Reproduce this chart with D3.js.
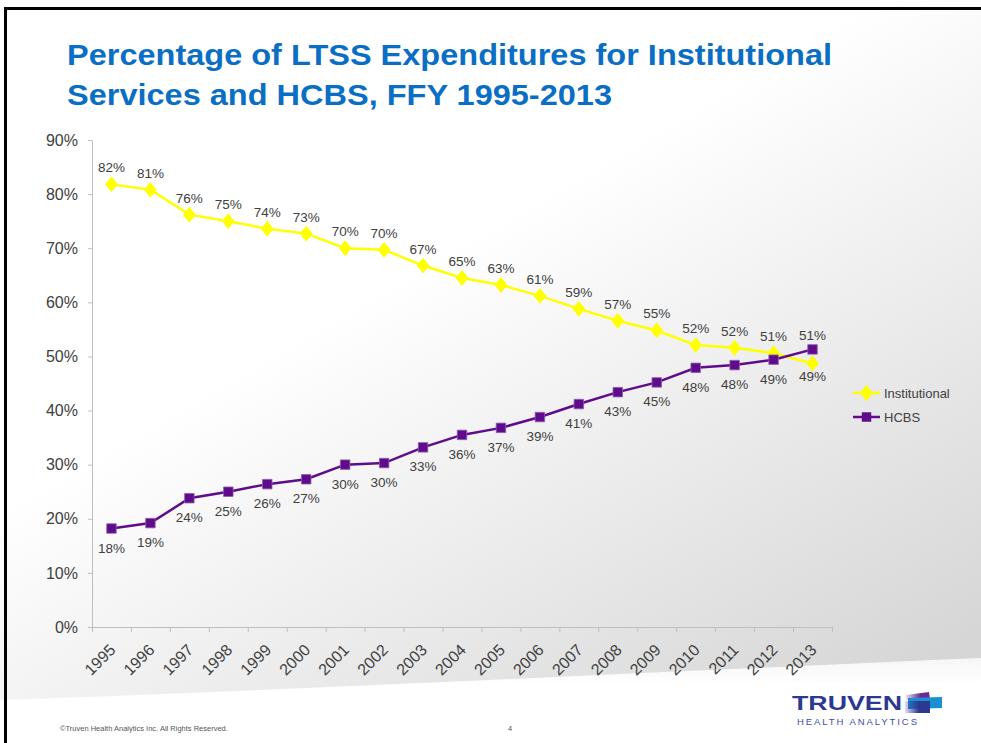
<!DOCTYPE html>
<html>
<head>
<meta charset="utf-8">
<script src="https://cdn.jsdelivr.net/npm/d3@7"></script>
<style>
  html, body { margin: 0; padding: 0; background: #fff; }
  svg { display: block; font-family: "Liberation Sans", Arial, sans-serif; }
</style>
</head>
<body>
<svg id="chart" width="981" height="743"></svg>
<script>
const years = ['1995', '1996', '1997', '1998', '1999', '2000', '2001', '2002', '2003', '2004',
  '2005', '2006', '2007', '2008', '2009', '2010', '2011', '2012', '2013'];
const institutional = [81.8, 80.8, 76.2, 75.0, 73.6, 72.7, 70.0, 69.7, 66.8, 64.5,
  63.2, 61.2, 58.8, 56.6, 54.8, 52.1, 51.6, 50.6, 48.7];
const hcbs = [18.2, 19.2, 23.8, 25.0, 26.4, 27.3, 30.0, 30.3, 33.2, 35.5,
  36.8, 38.8, 41.2, 43.4, 45.2, 47.9, 48.4, 49.4, 51.3];
const yTicks = [0, 10, 20, 30, 40, 50, 60, 70, 80, 90];
const seriesNames = ['Institutional', 'HCBS'];

const width = 981;
const height = 743;
const margin = { top: 140, right: 149, bottom: 116, left: 92 };

const svg = d3.select('#chart').attr('viewBox', [0, 0, width, height]);
const defs = svg.append('defs');

// slide background: grey wash on the right, white swoosh at the bottom
const bg = defs.append('linearGradient').attr('id', 'bg')
  .attr('x1', 0.5).attr('y1', 0.2).attr('x2', 1).attr('y2', 0.85);
bg.append('stop').attr('offset', '0.1').attr('stop-color', '#ffffff');
bg.append('stop').attr('offset', '1').attr('stop-color', '#d6d6d6');
const sw = defs.append('linearGradient').attr('id', 'sw').attr('x1', 0).attr('x2', 0).attr('y1', 0).attr('y2', 1);
sw.append('stop').attr('offset', '0').attr('stop-color', '#f6f6f6');
sw.append('stop').attr('offset', '0.3').attr('stop-color', '#ffffff');
sw.append('stop').attr('offset', '1').attr('stop-color', '#ffffff');

svg.append('rect').attr('width', width).attr('height', height).attr('fill', 'url(#bg)');
svg.append('path')
  .attr('d', 'M0,700 C300,690 650,672 981,658 L981,743 L0,743 Z')
  .attr('fill', 'url(#sw)');

// slide frame
svg.append('rect').attr('x', 5).attr('y', 7).attr('width', width - 5).attr('height', 3).attr('fill', '#000');
svg.append('rect').attr('x', 4).attr('y', 7).attr('width', 3).attr('height', height - 7).attr('fill', '#000');

// title
const title = svg.append('text')
  .attr('fill', '#0a6fc4')
  .attr('font-weight', 'bold')
  .attr('font-size', 30);
title.append('tspan').attr('x', 67).attr('y', 65)
  .attr('textLength', 765).attr('lengthAdjust', 'spacingAndGlyphs')
  .text('Percentage of LTSS Expenditures for Institutional');
title.append('tspan').attr('x', 67).attr('y', 105)
  .attr('textLength', 545).attr('lengthAdjust', 'spacingAndGlyphs')
  .text('Services and HCBS, FFY 1995-2013');

const x = d3.scaleBand()
  .domain(years)
  .range([margin.left, width - margin.right])
  .paddingInner(0)
  .paddingOuter(0);
const cx = d => x(d) + x.bandwidth() / 2;

const xb = d3.scaleLinear()
  .domain([0, years.length])
  .range([margin.left, width - margin.right]);

const y = d3.scaleLinear()
  .domain([0, 90])
  .range([height - margin.bottom, margin.top]);

const axisColor = '#bfbfbf';
const textColor = '#404040';

// y axis
svg.append('g')
  .attr('transform', `translate(${margin.left},0)`)
  .call(d3.axisLeft(y).tickValues(yTicks).tickSize(4).tickSizeOuter(0).tickPadding(10).tickFormat(d => d + '%'))
  .call(g => g.selectAll('.domain, line').attr('stroke', axisColor))
  .call(g => g.selectAll('text').attr('fill', textColor).attr('font-size', 16).attr('font-family', '"Liberation Sans", Arial, sans-serif'));

// x axis: ticks between categories
svg.append('g')
  .attr('transform', `translate(0,${y(0)})`)
  .call(d3.axisBottom(xb).tickValues(d3.range(years.length + 1)).tickSize(5).tickSizeOuter(0).tickFormat(''))
  .call(g => g.selectAll('.domain, line').attr('stroke', axisColor));

// x labels, rotated
svg.append('g')
  .attr('transform', `translate(0,${y(0)})`)
  .call(d3.axisBottom(x).tickSize(0).tickFormat(d => d))
  .call(g => g.select('.domain').remove())
  .call(g => g.selectAll('text')
    .attr('fill', textColor)
    .attr('font-size', 16)
    .attr('font-family', '"Liberation Sans", Arial, sans-serif')
    .attr('text-anchor', 'end')
    .attr('dy', null)
    .attr('y', 0)
    .attr('transform', 'translate(5,24) rotate(-45)'));

const colors = { Institutional: '#ffff00', HCBS: '#5f0b8c' };

const line = d3.line()
  .x((d, i) => cx(years[i]))
  .y(d => y(d));

const diamond = d3.symbol().type(d3.symbolDiamond).size(72);
const square = d3.symbol().type(d3.symbolSquare).size(90);

// Institutional
svg.append('path')
  .datum(institutional)
  .attr('fill', 'none')
  .attr('stroke', colors.Institutional)
  .attr('stroke-width', 2.5)
  .attr('d', line);
svg.append('g')
  .selectAll('path')
  .data(institutional)
  .join('path')
  .attr('transform', (d, i) => `translate(${cx(years[i])},${y(d)}) scale(1.4,1)`)
  .attr('fill', colors.Institutional)
  .attr('d', diamond);

// HCBS
svg.append('path')
  .datum(hcbs)
  .attr('fill', 'none')
  .attr('stroke', colors.HCBS)
  .attr('stroke-width', 2.5)
  .attr('d', line);
svg.append('g')
  .selectAll('path')
  .data(hcbs)
  .join('path')
  .attr('transform', (d, i) => `translate(${cx(years[i])},${y(d)})`)
  .attr('fill', colors.HCBS)
  .attr('stroke', '#8a5fae')
  .attr('stroke-width', 0.8)
  .attr('d', square);

// data labels
const last = years.length - 1;
svg.append('g')
  .attr('font-size', 13.5)
  .attr('fill', textColor)
  .attr('text-anchor', 'middle')
  .selectAll('text')
  .data(institutional)
  .join('text')
  .attr('x', (d, i) => cx(years[i]))
  .attr('y', (d, i) => i === last ? y(d) + 18 : y(d) - 12)
  .text(d => Math.round(d) + '%');

svg.append('g')
  .attr('font-size', 13.5)
  .attr('fill', textColor)
  .attr('text-anchor', 'middle')
  .selectAll('text')
  .data(hcbs)
  .join('text')
  .attr('x', (d, i) => cx(years[i]))
  .attr('y', (d, i) => i === last ? y(d) - 9 : y(d) + 24)
  .text(d => Math.round(d) + '%');

// legend
const legend = svg.append('g')
  .selectAll('g')
  .data(seriesNames)
  .join('g')
  .attr('transform', (d, i) => `translate(853,${393 + i * 24})`);
legend.append('line')
  .attr('x1', 0).attr('x2', 27)
  .attr('stroke', d => colors[d])
  .attr('stroke-width', 2.5);
legend.append('path')
  .attr('transform', d => d === 'Institutional' ? 'translate(13.5,0) scale(1.4,1)' : 'translate(13.5,0)')
  .attr('fill', d => colors[d])
  .attr('d', d => d === 'Institutional' ? diamond() : square());
legend.append('text')
  .attr('x', 31)
  .attr('y', 5)
  .attr('font-size', 13)
  .attr('fill', textColor)
  .text(d => d);

// footer
svg.append('text')
  .attr('x', 60).attr('y', 731)
  .attr('font-size', 7.5)
  .attr('fill', '#555')
  .text('\u00a9Truven Health Analytics Inc. All Rights Reserved.');
svg.append('text')
  .attr('x', 508).attr('y', 731)
  .attr('font-size', 7.5)
  .attr('fill', '#555')
  .text('4');

// logo
const logo = svg.append('g');
logo.append('text')
  .attr('x', 792).attr('y', 710)
  .attr('font-size', 20)
  .attr('font-weight', 'bold')
  .attr('fill', '#2b3990')
  .attr('textLength', 110)
  .attr('lengthAdjust', 'spacingAndGlyphs')
  .text('TRUVEN');
logo.append('text')
  .attr('x', 797).attr('y', 725)
  .attr('font-size', 9.5)
  .attr('fill', '#3d4ea3')
  .attr('textLength', 120)
  .text('HEALTH ANALYTICS');
const lg = defs.append('linearGradient').attr('id', 'lg').attr('x1', 0).attr('x2', 1);
lg.append('stop').attr('offset', '0').attr('stop-color', '#3a3fa0').attr('stop-opacity', 0.15);
lg.append('stop').attr('offset', '0.55').attr('stop-color', '#2b3990');
lg.append('stop').attr('offset', '1').attr('stop-color', '#2b3990');
const lp = defs.append('linearGradient').attr('id', 'lp').attr('x1', 0).attr('x2', 1);
lp.append('stop').attr('offset', '0').attr('stop-color', '#6a2c91').attr('stop-opacity', 0.15);
lp.append('stop').attr('offset', '0.6').attr('stop-color', '#6a2c91');
logo.append('path').attr('d', 'M906,695 L929,692 L930,699 L906,700 Z').attr('fill', 'url(#lp)');
logo.append('path').attr('d', 'M908,698 L942,697 L942,708 L908,709 Z').attr('fill', '#1a8fd1');
logo.append('path').attr('d', 'M905,701 L930,701 L930,713 L905,713 Z').attr('fill', 'url(#lg)');
</script>
</body>
</html>
